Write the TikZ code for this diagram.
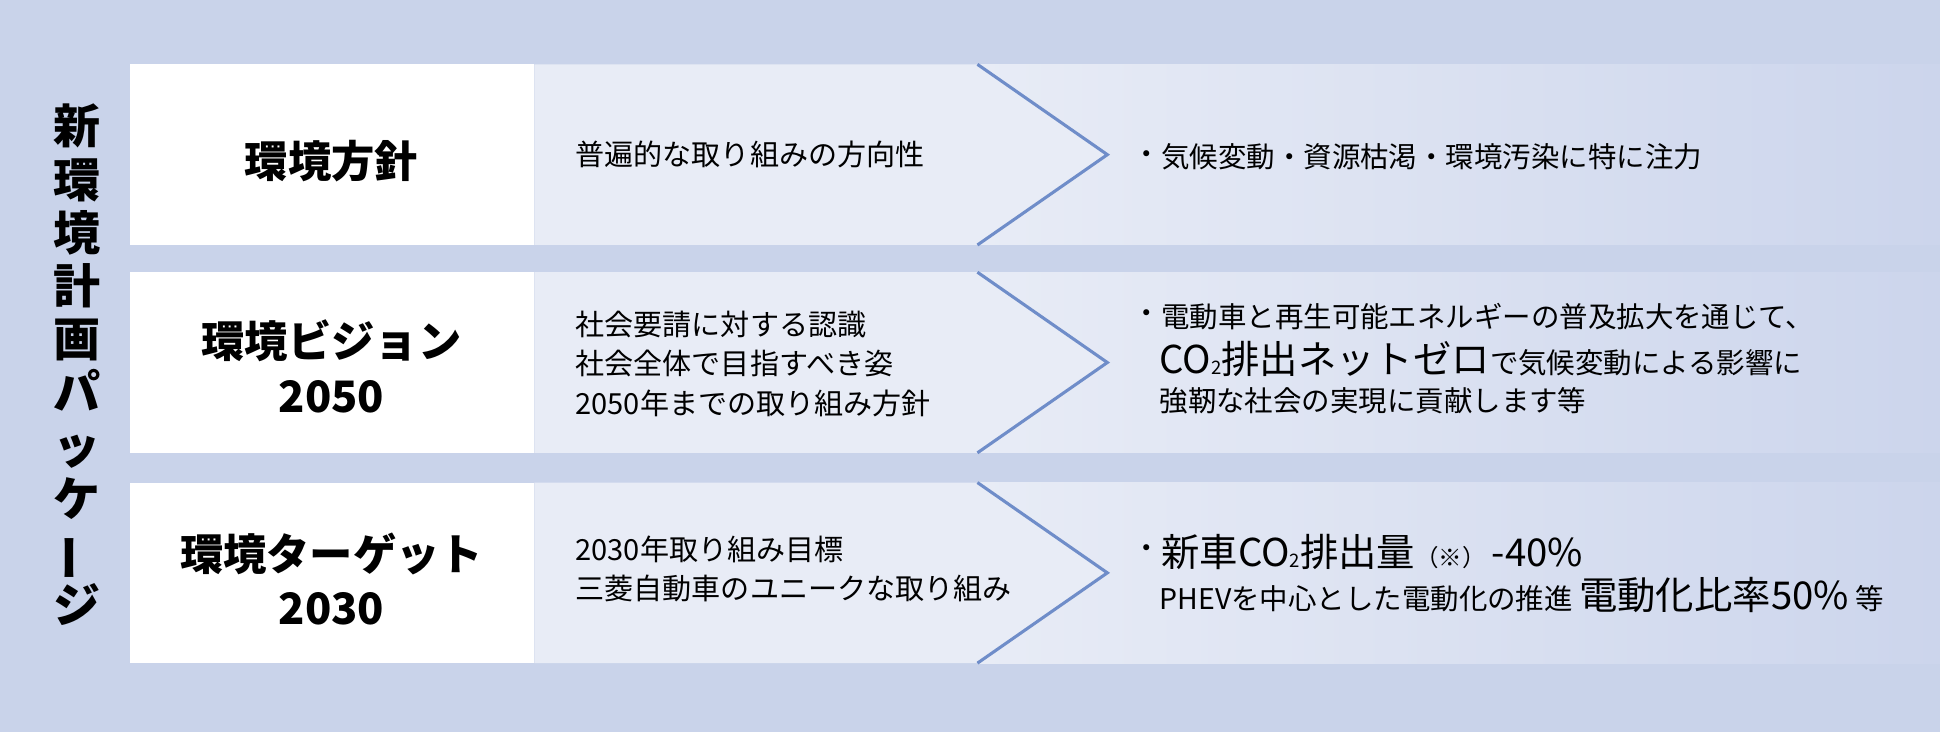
\documentclass[tikz,border=0pt]{standalone}
\usepackage{fontspec}
\usepackage{graphicx}
\setmainfont{Noto Sans CJK JP}
\usetikzlibrary{positioning}
\definecolor{bgblue}{HTML}{C9D3EA}
\definecolor{panelleft}{HTML}{E8ECF6}
\definecolor{panelright}{HTML}{CCD5EC}
\definecolor{chevline}{HTML}{6F8DC9}
\tikzset{
  rowtitle/.style={font=\fontsize{35}{44}\selectfont\bfseries, align=center, text=black},
  midtext/.style={anchor=west, font=\fontsize{23.5}{32}\selectfont, align=left, inner sep=0pt},
  righttext/.style={anchor=west, font=\fontsize{23}{26}\selectfont, inner sep=0pt},
}
\newcommand{\bigtxt}{\fontsize{31}{32}\selectfont}
\newcommand{\subtwo}{\raisebox{-1pt}{\fontsize{15}{15}\selectfont 2}}
\begin{document}
\begin{tikzpicture}[x=1pt,y=-1pt]
  % background
  \fill[bgblue] (0,0) rectangle (1568,592);

  % rows
  \foreach \top/\name in {52/one, 220/two, 390/three} {
    \shade[left color=panelleft, right color=panelright] (790,\top) rectangle (1568,\top+146);
    \fill[panelleft] (432,\top) -- (790,\top) -- (895,\top+73) -- (790,\top+146) -- (432,\top+146) -- cycle;
    \fill[white] (105,\top) rectangle (432,\top+146);
    \coordinate (\name a) at (790,\top);
    \coordinate (\name b) at (895,\top+73);
    \coordinate (\name c) at (790,\top+146);
    \draw[chevline, line width=2.5pt] (\name a) -- (\name b) -- (\name c);
  }

  % vertical title
  \node[font=\fontsize{38}{43}\selectfont\bfseries, align=center] (title) at (62,295)
    {新\\環\\境\\計\\画\\パ\\ッ\\ケ\\\rotatebox[origin=c]{90}{ー}\\ジ};

  % row titles
  \node[rowtitle] (policy) at (268,130) {環境方針};
  \node[rowtitle] (vision) at (268,296) {環境ビジョン\\2050};
  \node[rowtitle] (target) at (268,468) {環境ターゲット\\2030};

  % middle texts
  \node[midtext] (midone) at (465,125) {普遍的な取り組みの方向性};
  \node[midtext] (midtwo) at (465,294) {社会要請に対する認識\\社会全体で目指すべき姿\\2050年までの取り組み方針};
  \node[midtext] (midthree) at (465,460) {2030年取り組み目標\\三菱自動車のユニークな取り組み};

  % right texts
  \node[righttext] (bulletone) at (915,127) {・};
  \node[righttext, right=0pt of bulletone] (rightone) {気候変動・資源枯渇・環境汚染に特に注力};

  \node[righttext] (bullettwo) at (915,256) {・};
  \node[righttext, right=0pt of bullettwo] (righttwoa) {電動車と再生可能エネルギーの普及拡大を通じて、};
  \node[righttext] (righttwob) at (937,290) {{\bigtxt CO\subtwo 排出ネットゼロ}で気候変動による影響に};
  \node[righttext] (righttwoc) at (937,324) {強靭な社会の実現に貢献します等};

  \node[righttext] (bulletthree) at (915,446) {・};
  \node[righttext, right=0pt of bulletthree] (rightthreea)
    {{\bigtxt 新車CO\subtwo 排出量}{\fontsize{19}{20}\selectfont （※）}\ {\bigtxt -40\%}};
  \node[righttext] (rightthreeb) at (937,481)
    {PHEVを中心とした電動化の推進 {\bigtxt 電動化比率50\%} 等};
\end{tikzpicture}
\end{document}
